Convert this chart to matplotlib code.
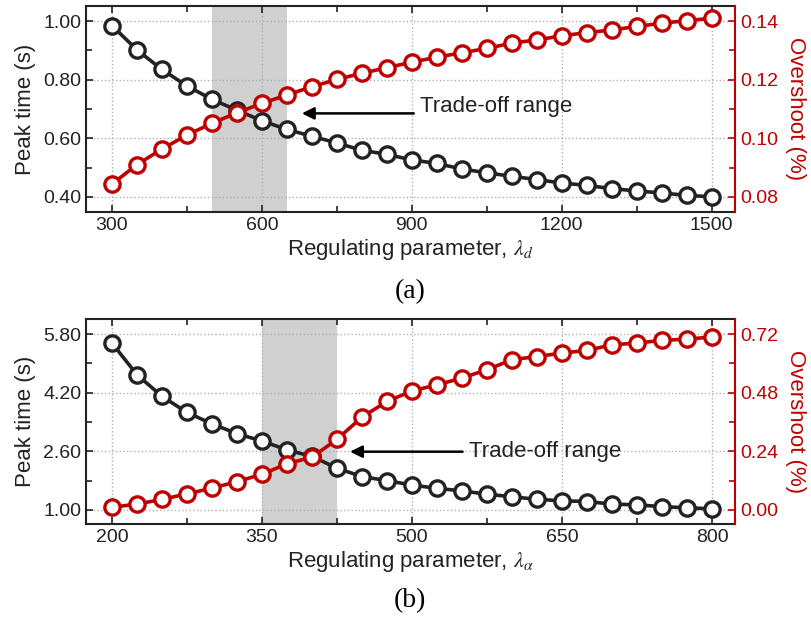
import matplotlib.pyplot as plt
from matplotlib.ticker import FixedLocator, FormatStrFormatter

plt.rcParams['font.family'] = ['Liberation Sans', 'DejaVu Sans']
plt.rcParams['mathtext.fontset'] = 'stix'

RED = '#bf0000'
BLACK = '#222222'

# panel (a): lambda_d sweep
lam_d = [300, 350, 400, 450, 500, 550, 600, 650, 700, 750, 800, 850, 900,
         950, 1000, 1050, 1100, 1150, 1200, 1250, 1300, 1350, 1400, 1450, 1500]
peak_a = [0.985, 0.902, 0.835, 0.779, 0.733, 0.696, 0.660, 0.630, 0.607, 0.584,
          0.559, 0.545, 0.526, 0.514, 0.495, 0.482, 0.470, 0.459, 0.447, 0.439,
          0.428, 0.420, 0.413, 0.405, 0.400]
over_a = [0.0843, 0.0910, 0.0963, 0.1011, 0.1051, 0.1087, 0.1119, 0.1148, 0.1176,
          0.1201, 0.1222, 0.1241, 0.1260, 0.1277, 0.1292, 0.1307, 0.1325, 0.1336,
          0.1350, 0.1361, 0.1370, 0.1382, 0.1393, 0.1402, 0.1410]
range_a = (500, 650)

# panel (b): lambda_alpha sweep
lam_a = [200, 225, 250, 275, 300, 325, 350, 375, 400, 425, 450, 475, 500,
         525, 550, 575, 600, 625, 650, 675, 700, 725, 750, 775, 800]
peak_b = [5.55, 4.69, 4.10, 3.66, 3.35, 3.08, 2.88, 2.64, 2.46, 2.14, 1.91, 1.80,
          1.68, 1.59, 1.52, 1.43, 1.36, 1.29, 1.25, 1.23, 1.16, 1.14, 1.09, 1.06, 1.03]
over_b = [0.011, 0.024, 0.043, 0.066, 0.089, 0.116, 0.146, 0.189, 0.216, 0.289,
          0.380, 0.444, 0.487, 0.512, 0.540, 0.574, 0.615, 0.628, 0.642, 0.653,
          0.676, 0.683, 0.694, 0.699, 0.708]
range_b = (350, 425)


def panel(rect, x, peak, over, span, xlim, xmaj, xmin, ylim, ymaj, ymin,
          ylim2, ymaj2, ymin2, arrow_xy, text_xy, xlabel, tag, tag_y):
    ax = fig.add_axes(rect)
    ax2 = ax.twinx()

    ax.axvspan(span[0], span[1], color='#d0d0d0', zorder=0, lw=0)
    ax.plot(x, peak, '-o', color=BLACK, lw=2.6, ms=11, mew=2.4, mfc='white',
            zorder=3)
    ax2.plot(x, over, '-o', color=RED, lw=2.6, ms=11, mew=2.4, mfc='white',
             zorder=3)

    ax.set_xlim(*xlim)
    ax.set_ylim(*ylim)
    ax2.set_ylim(*ylim2)
    ax.xaxis.set_major_locator(FixedLocator(xmaj))
    ax.xaxis.set_minor_locator(FixedLocator(xmin))
    ax.yaxis.set_major_locator(FixedLocator(ymaj))
    ax.yaxis.set_minor_locator(FixedLocator(ymin))
    ax2.yaxis.set_major_locator(FixedLocator(ymaj2))
    ax2.yaxis.set_minor_locator(FixedLocator(ymin2))
    ax.yaxis.set_major_formatter(FormatStrFormatter('%.2f'))
    ax2.yaxis.set_major_formatter(FormatStrFormatter('%.2f'))

    ax.grid(True, which='major', ls=':', color='#b0b0b0', lw=1.0)
    ax.tick_params(which='both', direction='in', top=True, right=False,
                   width=1.2, labelsize=14, colors=BLACK)
    ax.tick_params(which='major', length=5)
    ax.tick_params(which='minor', length=4)
    ax2.tick_params(which='both', direction='in', width=1.2, labelsize=14,
                    colors=RED)
    ax2.tick_params(which='major', length=5)
    ax2.tick_params(which='minor', length=4)

    for s in ax.spines.values():
        s.set_linewidth(1.5)
        s.set_color(BLACK)
    for s in ax2.spines.values():
        s.set_linewidth(1.5)
        s.set_visible(False)
    ax2.spines['right'].set_visible(True)
    ax2.spines['right'].set_color(RED)
    ax.spines['right'].set_visible(False)

    ax.set_ylabel('Peak time (s)', fontsize=16, color=BLACK, labelpad=5)
    ax2.set_ylabel('Overshoot (%)', fontsize=16, color=RED, rotation=270,
                   labelpad=20)
    ax.set_xlabel(xlabel, fontsize=16, color=BLACK, labelpad=2)

    ax.annotate('', xy=arrow_xy, xytext=(text_xy[0] - (xlim[1] - xlim[0]) * 0.01,
                                         arrow_xy[1]),
                arrowprops=dict(arrowstyle='-|>', color='black', lw=1.8,
                                mutation_scale=18, shrinkA=0, shrinkB=0),
                zorder=4)
    ax.text(text_xy[0], text_xy[1], 'Trade-off range', fontsize=16,
            va='center', ha='left', color=BLACK, zorder=4)

    fig.text(0.505, tag_y, tag, fontsize=20, ha='center', va='center',
             family=['Liberation Serif', 'DejaVu Serif'])
    return ax, ax2


fig = plt.figure(figsize=(8.12, 6.25), dpi=100)

panel([0.1059, 0.6608, 0.7993, 0.3296], lam_d, peak_a, over_a, range_a,
      (248, 1547), [300, 600, 900, 1200, 1500], [450, 750, 1050, 1350],
      (0.348, 1.052), [0.4, 0.6, 0.8, 1.0], [0.5, 0.7, 0.9],
      (0.0748, 0.1452), [0.08, 0.10, 0.12, 0.14], [0.09, 0.11, 0.13],
      (680, 0.685), (917, 0.708), r'Regulating parameter, $\lambda_d$', '(a)',
      1 - 292 / 625)

panel([0.1059, 0.1616, 0.7993, 0.328], lam_a, peak_b, over_b, range_b,
      (174, 823), [200, 350, 500, 650, 800], [275, 425, 575, 725],
      (0.617, 6.21), [1.0, 2.6, 4.2, 5.8], [1.8, 3.4, 5.0],
      (-0.0575, 0.7815), [0.0, 0.24, 0.48, 0.72], [0.12, 0.36, 0.60],
      (438, 2.59), (557, 2.59), r'Regulating parameter, $\lambda_\alpha$', '(b)',
      1 - 601 / 625)

fig.savefig('out.png', dpi=100)
